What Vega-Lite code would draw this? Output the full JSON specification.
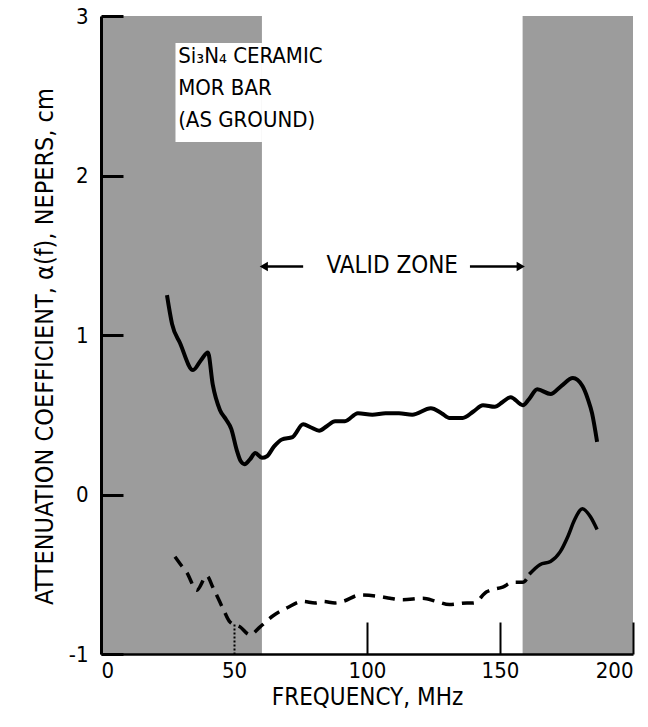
{
  "$schema": "https://vega.github.io/schema/vega-lite/v6.json",
  "width": 532,
  "height": 638,
  "autosize": "none",
  "padding": {"left": 101, "top": 16, "right": 15, "bottom": 73},
  "background": "white",
  "config": {
    "view": {"stroke": null},
    "font": "DejaVu Sans Condensed, Liberation Sans, sans-serif",
    "text": {"font": "DejaVu Sans Condensed, Liberation Sans, sans-serif"}
  },
  "datasets": {
    "zones": [
      {"x0": 0, "x1": 60.5, "y0": -1, "y1": 3},
      {"x0": 158.5, "x1": 200, "y0": -1, "y1": 3}
    ],
    "box": [{"x0": 28, "x1": 60.5, "y0": 2.21, "y1": 2.83}],
    "labels": [
      {"f": 29, "v": 2.75, "t": "Si₃N₄ CERAMIC"},
      {"f": 29, "v": 2.55, "t": "MOR BAR"},
      {"f": 29, "v": 2.35, "t": "(AS GROUND)"}
    ],
    "solid": [
      {"f": 24.8, "v": 1.25}, {"f": 26.7, "v": 1.07}, {"f": 29.7, "v": 0.95},
      {"f": 34.6, "v": 0.78}, {"f": 37.5, "v": 0.84}, {"f": 40.2, "v": 0.89},
      {"f": 42, "v": 0.69}, {"f": 44.7, "v": 0.53}, {"f": 47, "v": 0.47},
      {"f": 49, "v": 0.41}, {"f": 51, "v": 0.28}, {"f": 52.5, "v": 0.21},
      {"f": 54, "v": 0.19}, {"f": 56, "v": 0.22}, {"f": 58, "v": 0.26},
      {"f": 60.5, "v": 0.23}, {"f": 62.4, "v": 0.24}, {"f": 65, "v": 0.3},
      {"f": 68, "v": 0.345}, {"f": 72, "v": 0.36}, {"f": 76, "v": 0.44},
      {"f": 79, "v": 0.42}, {"f": 82, "v": 0.4}, {"f": 85, "v": 0.43},
      {"f": 88, "v": 0.46}, {"f": 91.7, "v": 0.46}, {"f": 96.6, "v": 0.51},
      {"f": 102, "v": 0.5}, {"f": 107, "v": 0.51}, {"f": 112, "v": 0.51},
      {"f": 117, "v": 0.5}, {"f": 124, "v": 0.54}, {"f": 128, "v": 0.51},
      {"f": 131, "v": 0.48}, {"f": 136, "v": 0.48}, {"f": 140, "v": 0.52},
      {"f": 143.6, "v": 0.56}, {"f": 148, "v": 0.55}, {"f": 151, "v": 0.58},
      {"f": 154, "v": 0.61}, {"f": 158.6, "v": 0.56}, {"f": 161, "v": 0.6},
      {"f": 164, "v": 0.66}, {"f": 169, "v": 0.63}, {"f": 173, "v": 0.68},
      {"f": 177.4, "v": 0.73}, {"f": 181, "v": 0.68}, {"f": 183, "v": 0.6},
      {"f": 184.6, "v": 0.51}, {"f": 186.5, "v": 0.33}
    ],
    "dashed": [
      {"f": 27.8, "v": -0.39}, {"f": 30, "v": -0.44}, {"f": 32.3, "v": -0.49},
      {"f": 36, "v": -0.6}, {"f": 39.8, "v": -0.51}, {"f": 42, "v": -0.58},
      {"f": 46, "v": -0.72}, {"f": 48.5, "v": -0.8}, {"f": 52.3, "v": -0.83},
      {"f": 56, "v": -0.88}, {"f": 59.8, "v": -0.83}, {"f": 64.7, "v": -0.76},
      {"f": 70, "v": -0.71}, {"f": 76, "v": -0.67}, {"f": 80.5, "v": -0.68},
      {"f": 83.5, "v": -0.67}, {"f": 88, "v": -0.68}, {"f": 91, "v": -0.67},
      {"f": 97.4, "v": -0.63}, {"f": 105, "v": -0.64}, {"f": 108.6, "v": -0.65},
      {"f": 113.5, "v": -0.66}, {"f": 121, "v": -0.65}, {"f": 126, "v": -0.67},
      {"f": 131, "v": -0.69}, {"f": 137.6, "v": -0.68}, {"f": 140, "v": -0.68},
      {"f": 145, "v": -0.61}, {"f": 151, "v": -0.58}, {"f": 155, "v": -0.55},
      {"f": 158.6, "v": -0.55}, {"f": 161, "v": -0.5}
    ],
    "dashedEnd": [
      {"f": 161, "v": -0.5}, {"f": 165, "v": -0.44}, {"f": 169, "v": -0.42},
      {"f": 172.6, "v": -0.36}, {"f": 175.6, "v": -0.26}, {"f": 178, "v": -0.16},
      {"f": 181, "v": -0.09}, {"f": 184, "v": -0.14}, {"f": 186.5, "v": -0.22}
    ],
    "arrows": [
      {"a": 76, "b": 61.2, "v": 1.43, "shape": "triangle-left"},
      {"a": 138.7, "b": 157.8, "v": 1.43, "shape": "triangle-right"}
    ],
    "zone": [{"f": 109.5, "v": 1.43, "t": "VALID ZONE"}]
  },
  "layer": [
    {
      "data": {"name": "zones"},
      "mark": {"type": "rect", "fill": "#9c9c9c"},
      "encoding": {
        "x": {
          "field": "x0", "type": "quantitative",
          "scale": {"domain": [0, 200], "nice": false, "zero": false},
          "axis": {
            "values": [0, 50, 100, 150, 200],
            "format": "d",
            "title": "FREQUENCY, MHz",
            "titleFontSize": 24,
            "titleFontWeight": "normal",
            "titleColor": "black",
            "titlePadding": 4,
            "labelFontSize": 22,
            "labelColor": "black",
            "labelPadding": 38,
            "tickSize": -32,
            "tickWidth": 2,
            "tickColor": "black",
            "tickDash": {"condition": {"test": "datum.value == 50", "value": [2, 2]}, "value": []},
            "domainColor": "black",
            "domainWidth": 2.5,
            "grid": false,
            "zindex": 1
          }
        },
        "x2": {"field": "x1"},
        "y": {
          "field": "y0", "type": "quantitative",
          "scale": {"domain": [-1, 3], "nice": false, "zero": false},
          "axis": {
            "values": [-1, 0, 1, 2, 3],
            "format": "d",
            "labelExpr": "replace(datum.label, '−', '-')",
            "title": "ATTENUATION COEFFICIENT, α(f), NEPERS, cm",
            "titleFontSize": 25,
            "titleFontWeight": "normal",
            "titleColor": "black",
            "titlePadding": 11,
            "titleY": 330,
            "labelFontSize": 22,
            "labelColor": "black",
            "labelPadding": 35,
            "tickSize": -22,
            "tickWidth": 3,
            "tickColor": "black",
            "domainColor": "black",
            "domainWidth": 3,
            "grid": false,
            "zindex": 1
          }
        },
        "y2": {"field": "y1"}
      }
    },
    {
      "data": {"name": "box"},
      "mark": {"type": "rect", "fill": "white"},
      "encoding": {
        "x": {"field": "x0", "type": "quantitative"},
        "x2": {"field": "x1"},
        "y": {"field": "y0", "type": "quantitative"},
        "y2": {"field": "y1"}
      }
    },
    {
      "data": {"name": "labels"},
      "mark": {"type": "text", "align": "left", "baseline": "middle", "fontSize": 22, "color": "black"},
      "encoding": {
        "x": {"field": "f", "type": "quantitative"},
        "y": {"field": "v", "type": "quantitative"},
        "text": {"field": "t"}
      }
    },
    {
      "data": {"name": "solid"},
      "mark": {"type": "line", "color": "black", "strokeWidth": 4, "interpolate": "monotone"},
      "encoding": {
        "x": {"field": "f", "type": "quantitative"},
        "y": {"field": "v", "type": "quantitative"}
      }
    },
    {
      "data": {"name": "dashed"},
      "mark": {"type": "line", "color": "black", "strokeWidth": 3.5, "strokeDash": [12, 8], "interpolate": "monotone"},
      "encoding": {
        "x": {"field": "f", "type": "quantitative"},
        "y": {"field": "v", "type": "quantitative"}
      }
    },
    {
      "data": {"name": "dashedEnd"},
      "mark": {"type": "line", "color": "black", "strokeWidth": 3.5, "interpolate": "monotone"},
      "encoding": {
        "x": {"field": "f", "type": "quantitative"},
        "y": {"field": "v", "type": "quantitative"}
      }
    },
    {
      "data": {"name": "arrows"},
      "mark": {"type": "rule", "color": "black", "strokeWidth": 2.5},
      "encoding": {
        "x": {"field": "a", "type": "quantitative"},
        "x2": {"field": "b"},
        "y": {"field": "v", "type": "quantitative"}
      }
    },
    {
      "data": {"name": "arrows"},
      "mark": {"type": "point", "filled": true, "color": "black", "size": 90, "opacity": 1},
      "encoding": {
        "x": {"field": "b", "type": "quantitative"},
        "y": {"field": "v", "type": "quantitative"},
        "shape": {"field": "shape", "type": "nominal", "scale": null, "legend": null}
      }
    },
    {
      "data": {"name": "zone"},
      "mark": {"type": "text", "align": "center", "baseline": "middle", "fontSize": 24, "color": "black"},
      "encoding": {
        "x": {"field": "f", "type": "quantitative"},
        "y": {"field": "v", "type": "quantitative"},
        "text": {"field": "t"}
      }
    }
  ]
}
